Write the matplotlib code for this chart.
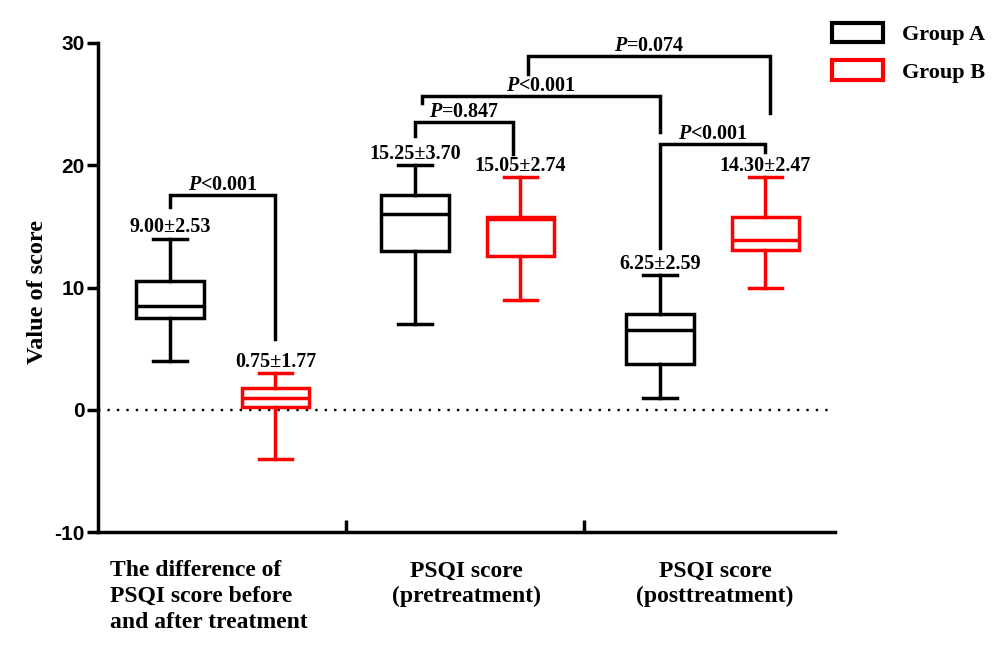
import matplotlib
matplotlib.use('Agg')
import matplotlib.pyplot as plt
from matplotlib.patches import Patch
from matplotlib.transforms import blended_transform_factory

plt.rcParams['mathtext.fontset'] = 'custom'
plt.rcParams['mathtext.it'] = 'Liberation Serif:italic:bold'
plt.rcParams['mathtext.rm'] = 'Liberation Serif:bold'

# box statistics: (whislo, q1, med, q3, whishi)
groups = ['The difference of\nPSQI score before\nand after treatment',
          'PSQI score\n(pretreatment)', 'PSQI score\n(posttreatment)']
box_a = [(4, 7.5, 8.5, 10.5, 14), (7, 13, 16, 17.6, 20), (1, 3.75, 6.5, 7.8, 11)]
box_b = [(-4, 0.25, 1, 1.75, 3), (9, 12.6, 15.6, 15.8, 19), (10, 13.1, 13.9, 15.8, 19)]
mean_a = ['9.00±2.53', '15.25±3.70', '6.25±2.59']
mean_b = ['0.75±1.77', '15.05±2.74', '14.30±2.47']

# comparison brackets: x left, x right, left leg end, top, right leg end, label
brackets = [
    (0.0, 0.43, 16.6, 17.6, 5.8, r'$P$<0.001'),
    (1.0, 1.40, 22.4, 23.5, 20.9, r'$P$=0.847'),
    (1.03, 2.0, 25.1, 25.7, 22.7, r'$P$<0.001'),
    (1.46, 2.45, 27.5, 28.9, 24.3, r'$P$=0.074'),
    (2.0, 2.43, 13.2, 21.7, 21.1, r'$P$<0.001'),
]

pos_a = [0, 1, 2]
pos_b = [p + 0.43 for p in pos_a]
seps = [0.718, 1.69]

fig = plt.figure(figsize=(10.04, 6.53), dpi=100)
ax = fig.add_axes([98 / 1004, 1 - 532 / 653, (835 - 98) / 1004, (532 - 43) / 653])

serif = 'Liberation Serif'
lw = 2.5
fs_ann = 14.5


def to_stats(vals):
    return [dict(whislo=v[0], q1=v[1], med=v[2], q3=v[3], whishi=v[4], fliers=[])
            for v in vals]


for stats, pos, col in [(box_a, pos_a, 'black'), (box_b, pos_b, 'red')]:
    ax.bxp(to_stats(stats), positions=pos, widths=0.275, showfliers=False,
           patch_artist=True,
           boxprops=dict(facecolor='white', edgecolor=col, linewidth=lw),
           medianprops=dict(color=col, linewidth=lw),
           whiskerprops=dict(color=col, linewidth=lw),
           capprops=dict(color=col, linewidth=lw),
           manage_ticks=False, zorder=3)

for i in range(3):
    ax.text(pos_a[i], box_a[i][4] + 0.1, mean_a[i], ha='center', va='bottom',
            family=serif, weight='bold', fontsize=fs_ann)
    ax.text(pos_b[i], box_b[i][4] + 0.1, mean_b[i], ha='center', va='bottom',
            family=serif, weight='bold', fontsize=fs_ann)

for x1, x2, yl, yt, yr, lab in brackets:
    ax.plot([x1, x1, x2, x2], [yl, yt, yt, yr], color='black', lw=lw,
            solid_joinstyle='miter', zorder=4)
    ax.text((x1 + x2) / 2, yt + 0.0, lab, ha='center', va='bottom',
            family=serif, weight='bold', fontsize=fs_ann)

ax.axhline(0, xmin=0, xmax=0.993, color='black', lw=1.7, ls=(0, (1, 3)), zorder=1)

ax.set_xlim(-0.294, 2.714)
ax.set_ylim(-10, 30)
ax.set_yticks([-10, 0, 10, 20, 30])
ax.set_yticklabels(['-10', '0', '10', '20', '30'], family='Liberation Sans',
                   weight='bold', fontsize=15)
ax.tick_params(axis='y', length=8, width=lw, direction='out', pad=1.5)
ax.set_xticks(seps)
ax.set_xticklabels([])
ax.tick_params(axis='x', length=9, width=lw, direction='in')
for s in ['top', 'right']:
    ax.spines[s].set_visible(False)
for s in ['left', 'bottom']:
    ax.spines[s].set_linewidth(lw)

ax.set_ylabel('Value of score', family=serif, weight='bold', fontsize=17.5)
ax.yaxis.set_label_coords(-0.068, 0.49)

trans = blended_transform_factory(ax.transData, ax.transAxes)
label_x = [-0.245, 1.208, 2.224]
label_ha = ['left', 'center', 'center']
for x, g, ha in zip(label_x, groups, label_ha):
    ax.text(x, -0.058, g, transform=trans, ha=ha, va='top',
            multialignment=ha, family=serif, weight='bold', fontsize=17,
            linespacing=1.29)

handles = [Patch(facecolor='white', edgecolor='black', linewidth=3),
           Patch(facecolor='white', edgecolor='red', linewidth=3)]
fig.legend(handles, ['Group A', 'Group B'], loc='upper left',
           bbox_to_anchor=(812 / 1004, 1 - 3 / 653), frameon=False,
           prop=dict(family=serif, weight='bold', size=16),
           handlelength=2.3, handleheight=0.95, handletextpad=0.86, labelspacing=0.68)

fig.savefig('out.png', dpi=100)
